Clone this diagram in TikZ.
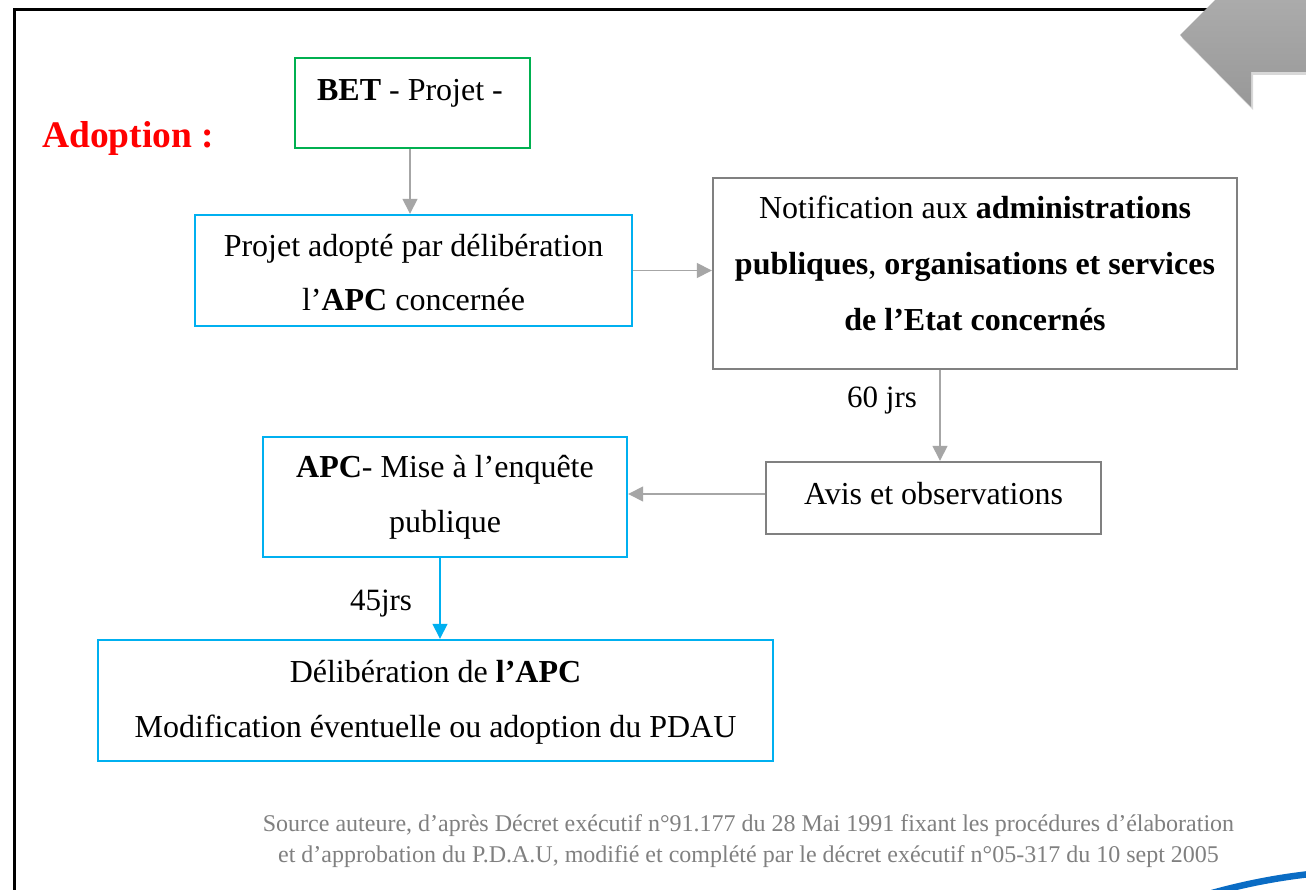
\documentclass[tikz,border=0pt]{standalone}
\usepackage{fontspec}
\setmainfont{Liberation Serif}
\usetikzlibrary{arrows.meta,shadows}
\definecolor{boxcyan}{HTML}{00B0F0}
\definecolor{boxgreen}{HTML}{00B050}
\definecolor{boxgrey}{HTML}{808080}
\definecolor{arrowgrey}{HTML}{A6A6A6}
\definecolor{srcgrey}{HTML}{808080}
\definecolor{tabtop}{HTML}{ABABAB}
\definecolor{tabbottom}{HTML}{989898}
\definecolor{swooshblue}{HTML}{0A6CC4}
\tikzset{
  stepbox/.style={draw, line width=2.4pt, inner sep=0pt},
  ln/.style={inner sep=0pt, anchor=center, text height=22pt, text depth=7pt,
             yshift=-3.5pt, font=\fontsize{32}{38}\selectfont},
  lbl/.style={inner sep=0pt, anchor=center, text height=21pt, text depth=7pt,
              yshift=-3pt, font=\fontsize{31}{36}\selectfont},
  src/.style={inner sep=0pt, anchor=center, text height=16pt, text depth=5pt,
              yshift=-1pt, text=srcgrey, font=\fontsize{24}{28}\selectfont},
  flow/.style={draw=arrowgrey, line width=1.5pt,
               -{Triangle[length=15pt,width=15pt]}},
  flowblue/.style={draw=boxcyan, line width=1.5pt,
               -{Triangle[length=15pt,width=15pt]}}
}
\begin{document}
\begin{tikzpicture}[x=1pt,y=-1pt]
\useasboundingbox (0,0) rectangle (1306,890);
\fill[white] (0,0) rectangle (1306,890);

% page frame (top and left edges)
\draw[black, line width=3pt] (14.5,900) -- (14.5,9.5) -- (1306,9.5);

% grey tab in the upper right corner
\shade[top color=tabtop, bottom color=tabbottom,
       drop shadow={opacity=0.3, shadow xshift=2pt, shadow yshift=-3pt}]
  (1180,35) -- (1215,0) -- (1306,0) -- (1306,72) -- (1251,72) -- (1251,107) -- cycle;

% blue swoosh in the lower right corner
\draw[swooshblue, line width=6.5pt] (1212,893) .. controls (1245,884) and (1275,878) .. (1310,874);

% title
\node[inner sep=0pt, anchor=west, text=red, text height=26pt, text depth=8pt,
      font=\fontsize{37.5}{42}\selectfont\bfseries] (title) at (42,139) {Adoption :};

% boxes
\node[stepbox, draw=boxgreen, minimum width=235pt, minimum height=90pt] (bet) at (412.5,103) {};
\node[stepbox, draw=boxcyan, minimum width=437pt, minimum height=111pt] (proj) at (413.5,270.5) {};
\node[stepbox, draw=boxgrey, minimum width=524pt, minimum height=191pt] (notif) at (975,273.5) {};
\node[stepbox, draw=boxgrey, minimum width=335pt, minimum height=72pt] (avis) at (933.5,498) {};
\node[stepbox, draw=boxcyan, minimum width=364pt, minimum height=120pt] (apc) at (445,497) {};
\node[stepbox, draw=boxcyan, minimum width=675pt, minimum height=121pt] (delib) at (435.5,700.5) {};

% box texts
\node[ln] (betA) at (410,90) {\textbf{BET} - Projet -};
\node[ln] (projA) at (413.5,246) {Projet adopté par délibération};
\node[ln] (projB) at (413.5,300) {l’\textbf{APC} concernée};
\node[ln] (notifA) at (975,208) {Notification aux \textbf{administrations}};
\node[ln] (notifB) at (975,264) {\textbf{publiques}, \textbf{organisations et services}};
\node[ln] (notifC) at (975,320) {\textbf{de l’Etat concernés}};
\node[ln] (avisA) at (933.5,493) {Avis et observations};
\node[ln] (apcA) at (445,466) {\textbf{APC}- Mise à l’enquête};
\node[ln] (apcB) at (445,521) {publique};
\node[ln] (delibA) at (435.5,671) {Délibération de \textbf{l’APC}};
\node[ln] (delibB) at (435.5,726) {Modification éventuelle ou adoption du PDAU};

% connectors
\draw[flow] ([xshift=-2.5pt]bet.south) -- ([xshift=-2.5pt]bet.south |- proj.north);
\draw[flow] (proj.east) -- (proj.east -| notif.west);
\draw[flow] ([xshift=6.5pt]avis.north |- notif.south) -- ([xshift=6.5pt]avis.north);
\draw[flow] ([yshift=4pt]avis.west) -- ([yshift=4pt]avis.west -| apc.east);
\draw[flowblue] ([xshift=-5pt]apc.south) -- ([xshift=-5pt]apc.south |- delib.north);

% delay labels
\node[lbl] (d60) at (882,397) {60 jrs};
\node[lbl] (d45) at (381,600) {45jrs};

% source note
\node[src] (srcA) at (748.5,825) {Source auteure, d’après Décret exécutif n°91.177 du 28 Mai 1991 fixant les procédures d’élaboration};
\node[src] (srcB) at (748.5,856) {et d’approbation du P.D.A.U, modifié et complété par le décret exécutif n°05-317 du 10 sept 2005};
\end{tikzpicture}
\end{document}
